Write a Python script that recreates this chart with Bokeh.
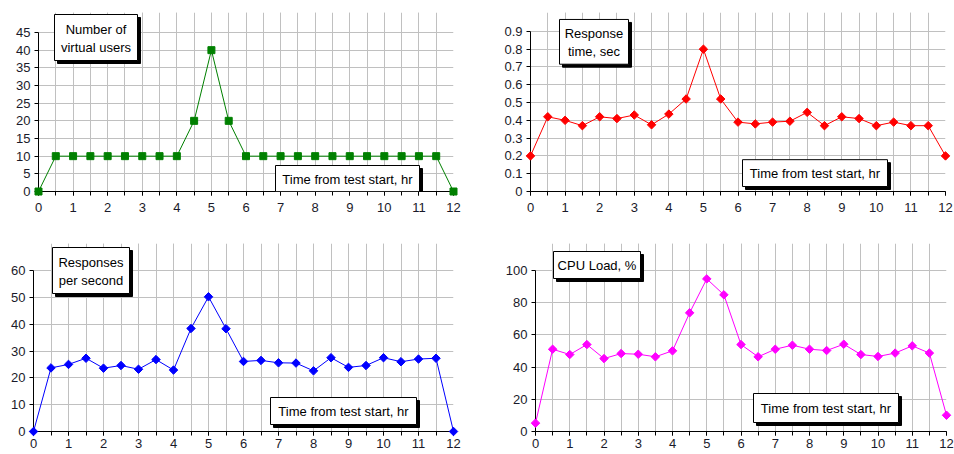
from bokeh.plotting import figure
from bokeh.models import FixedTicker, NumeralTickFormatter, BoxAnnotation, Label, Range1d
from bokeh.layouts import column, row
from bokeh.embed import file_html
from bokeh.resources import INLINE

# ---- data ----
hours = [0, 0.5, 1, 1.5, 2, 2.5, 3, 3.5, 4, 4.5, 5, 5.5, 6, 6.5, 7, 7.5, 8, 8.5,
         9, 9.5, 10, 10.5, 11, 11.5, 12]
virtual_users = [0, 10, 10, 10, 10, 10, 10, 10, 10, 20, 40, 20, 10, 10, 10, 10, 10,
                 10, 10, 10, 10, 10, 10, 10, 0]
response_time = [0.20, 0.42, 0.40, 0.37, 0.42, 0.41, 0.43, 0.375, 0.435, 0.52, 0.80,
                 0.52, 0.39, 0.38, 0.39, 0.395, 0.445, 0.37, 0.42, 0.41, 0.37, 0.39,
                 0.37, 0.37, 0.20]
responses_per_sec = [0, 23.7, 25.0, 27.3, 23.6, 24.6, 23.2, 26.8, 22.9, 38.4, 50.2,
                     38.3, 26.1, 26.5, 25.6, 25.5, 22.6, 27.5, 23.9, 24.6, 27.5, 26.0,
                     27.0, 27.3, 0]
cpu_load = [5.2, 51.1, 47.8, 54.0, 45.3, 48.4, 48.0, 46.4, 50.1, 73.7, 94.8, 84.9,
            54.0, 46.4, 51.1, 53.6, 51.1, 50.3, 54.2, 47.8, 46.6, 48.7, 53.2, 48.7, 10.1]

x_major_ticks = [0, 1, 2, 3, 4, 5, 6, 7, 8, 9, 10, 11, 12]
y_ticks_users = [0, 5, 10, 15, 20, 25, 30, 35, 40, 45]
y_ticks_rt = [0, 0.1, 0.2, 0.3, 0.4, 0.5, 0.6, 0.7, 0.8, 0.9]
y_ticks_rps = [0, 10, 20, 30, 40, 50, 60]
y_ticks_cpu = [0, 20, 40, 60, 80, 100]

titles = ["Number of\nvirtual users", "Response\ntime, sec", "Responses\nper second", "CPU Load, %"]
x_title = "Time from test start, hr"

GRID = "#c0c0c0"
FONT = "Liberation Sans"
TICK_COLOR = "#1a1a2a"


def make_panel(origin, size, frame, top_px, yticks, ys, color, msize, angle,
               title, title_box, xbox, fmt, x_standoff):
    ox, oy = origin
    w, h = size
    fl, fr, ft, fb = frame          # ft = pixel row of the top tick value
    ymax = yticks[-1]
    y_end = ymax * (fb - top_px) / (fb - ft)   # frame extended up to top_px
    p = figure(width=w, height=h, x_range=Range1d(0, 12), y_range=Range1d(0, y_end),
               output_backend="svg", toolbar_location=None,
               min_border_left=fl - ox, min_border_right=ox + w - fr,
               min_border_top=top_px - oy, min_border_bottom=oy + h - fb)
    p.background_fill_color = "white"
    p.border_fill_color = "white"
    p.outline_line_color = None

    p.xaxis.ticker = FixedTicker(ticks=x_major_ticks, minor_ticks=hours)
    p.yaxis.ticker = FixedTicker(ticks=yticks, minor_ticks=[])
    p.yaxis.formatter = NumeralTickFormatter(format=fmt)
    p.yaxis.bounds = (0, ymax)
    for ax in (p.xaxis[0], p.yaxis[0]):
        ax.axis_line_color = "black"
        ax.major_tick_line_color = "black"
        ax.minor_tick_line_color = "black"
        ax.major_tick_in = 0
        ax.major_tick_out = 4
        ax.minor_tick_in = 0
        ax.minor_tick_out = 4
        ax.major_label_text_font = FONT
        ax.major_label_text_font_size = "13px"
        ax.major_label_text_color = TICK_COLOR
    p.xaxis.major_label_standoff = x_standoff
    p.yaxis.major_label_standoff = 4
    p.yaxis.minor_tick_line_color = None

    p.xgrid.grid_line_color = GRID
    p.xgrid.minor_grid_line_color = GRID
    p.xgrid.bounds = (0, ymax)
    p.ygrid.grid_line_color = GRID

    ln = p.line(hours, ys, line_color=color, line_width=1)
    ln.level = "overlay"
    sc = p.scatter(hours, ys, marker="square", size=msize, angle=angle,
                   fill_color=color, line_color=color)
    sc.level = "overlay"

    def to_data(px, py):
        return ((px - fl) / (fr - fl) * 12.0, (fb - py) / (fb - ft) * ymax)

    for (bx0, by0, bx1, by1), txt in ((title_box, title), (xbox, x_title)):
        l, t = to_data(bx0, by0)
        r, b = to_data(bx1, by1)
        sl, st = to_data(bx0 + 3, by0 + 3)
        sr, sb = to_data(bx1 + 3, by1 + 3)
        p.add_layout(BoxAnnotation(left=sl, right=sr, top=st, bottom=sb,
                                   fill_color="black", fill_alpha=1.0,
                                   line_color="black", line_alpha=1.0, level="overlay"))
        p.add_layout(BoxAnnotation(left=l, right=r, top=t, bottom=b,
                                   fill_color="white", fill_alpha=1.0,
                                   line_color="black", line_width=1, line_alpha=1.0,
                                   level="overlay"))
        cx, cy = to_data((bx0 + bx1) / 2, (by0 + by1) / 2 + 0.5)
        p.add_layout(Label(x=cx, y=cy, text=txt, text_align="center",
                           text_baseline="middle", text_font=FONT,
                           text_font_size="13px", text_color="black", level="overlay"))
    return p


p1 = make_panel((0, 0), (480, 230), (38, 453, 32, 191), 12, y_ticks_users, virtual_users,
                "#008000", 7, 0, titles[0], (54, 14, 137, 60),
                (275, 165, 419, 191), "0", 7)
p2 = make_panel((480, 0), (474, 230), (530, 945, 31, 192), 12, y_ticks_rt, response_time,
                "#ff0000", 6, 0.785398, titles[1], (559, 19, 628, 64),
                (742, 160, 887, 187), "0.[0]", 7)
p3 = make_panel((0, 230), (480, 224), (33, 453, 270, 431), 243, y_ticks_rps, responses_per_sec,
                "#0000ff", 6, 0.785398, titles[2], (52, 247, 129, 293),
                (270, 397, 416, 424), "0", 3)
p4 = make_panel((480, 230), (474, 224), (535, 946, 270, 431), 243, y_ticks_cpu, cpu_load,
                "#ff00ff", 6, 0.785398, titles[3], (553, 251, 640, 278),
                (753, 393, 898, 422), "0", 3)

layout = column(row(p1, p2), row(p3, p4))
open("out.html", "w").write(file_html(layout, INLINE))
